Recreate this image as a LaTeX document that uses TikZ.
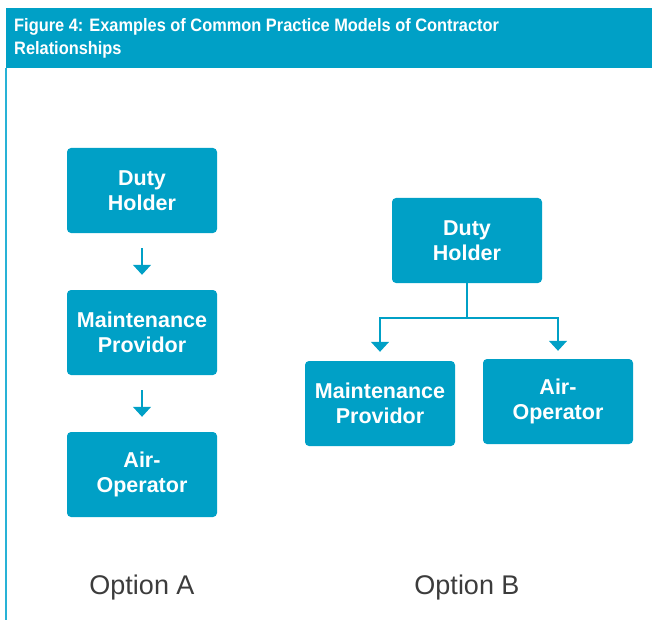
\documentclass[tikz,border=0pt]{standalone}
\usepackage{fontspec}
\setmainfont{Liberation Sans}
\newfontfamily\titlefont[FakeStretch=0.91]{Liberation Sans}
\usetikzlibrary{arrows.meta}
\definecolor{boxblue}{RGB}{0,160,198}
\definecolor{lineblue}{RGB}{40,178,214}
\definecolor{labelgray}{RGB}{60,60,60}
\tikzset{
  box/.style={fill=boxblue, rounded corners=4pt, minimum width=150pt, minimum height=85pt,
    text=white, align=center, font=\bfseries\fontsize{21.5}{25}\selectfont, inner sep=0pt},
  conn/.style={draw=boxblue, line width=1.4pt, -{Triangle[width=18pt,length=10pt]}},
  optlabel/.style={text=labelgray, font=\fontsize{27}{30}\selectfont, anchor=base}
}
\begin{document}
\begin{tikzpicture}[x=1pt,y=-1pt]
\useasboundingbox (0,0) rectangle (652,620);
% header band
\fill[boxblue] (6,8) rectangle (652,68);
\draw[lineblue, line width=1.5pt] (6,68) -- (6,620);
\node[anchor=base west, text=white, align=left, inner sep=0pt,
  font=\titlefont\bfseries\fontsize{18}{23}\selectfont] (title) at (14,55)
  {Figure 4: Examples of Common Practice Models of Contractor\\Relationships};
% Option A
\node[box] (dhA) at (142,190.5) {Duty\\Holder};
\node[box] (mpA) at (142,332.5) {Maintenance\\Providor};
\node[box] (aoA) at (142,474.5) {Air-\\Operator};
\draw[conn, shorten <=15pt, shorten >=15pt] (dhA) -- (mpA);
\draw[conn, shorten <=15pt, shorten >=15pt] (mpA) -- (aoA);
% Option B
\node[box] (dhB) at (467,240.5) {Duty\\Holder};
\node[box] (mpB) at (380,403.5) {Maintenance\\Providor};
\node[box] (aoB) at (558,401.5) {Air-\\Operator};
\coordinate (split) at (467,318);
\draw[draw=boxblue, line width=1.4pt] (dhB.south) -- (split);
\draw[conn, shorten >=9pt] (split) -| (mpB.north);
\draw[conn, shorten >=8pt] (split) -| (aoB.north);
% labels
\node[optlabel] (optA) at (142,594) {Option A};
\node[optlabel] (optB) at (467,594) {Option B};
\end{tikzpicture}
\end{document}
